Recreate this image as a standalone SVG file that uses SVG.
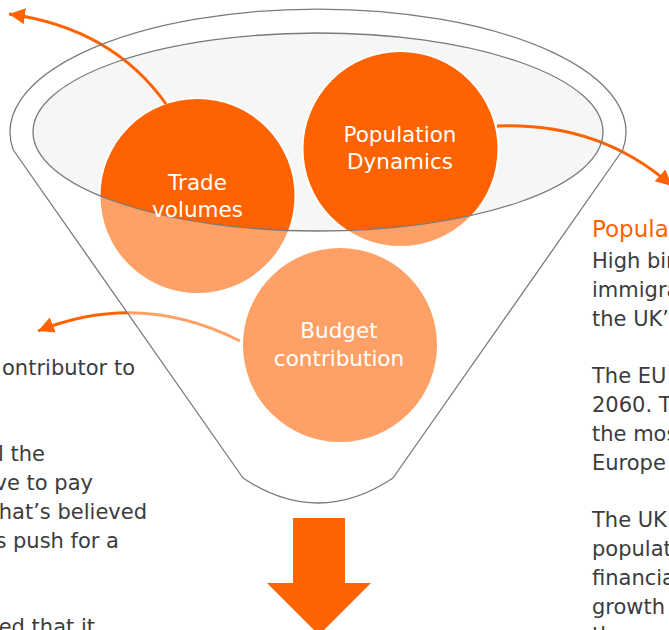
<svg xmlns="http://www.w3.org/2000/svg" width="669" height="630" viewBox="0 0 669 630">
  <style>
    .rim { fill: none; stroke: #7a7a7a; stroke-width: 1.3; stroke-linejoin: round; }
    .ball { fill: #ff6200; stroke: #ffffff; stroke-width: 2; }
    .label { font-family: "DejaVu Sans", "Liberation Sans", sans-serif; font-size: 21.5px; fill: #ffffff; text-anchor: middle; }
    .body { font-family: "DejaVu Sans", "Liberation Sans", sans-serif; font-size: 21px; fill: #3c3c3c; }
    .title { font-family: "DejaVu Sans", "Liberation Sans", sans-serif; font-size: 23px; fill: #ff6200; }
    .link { fill: none; stroke: #ff6200; stroke-width: 2.8; marker-end: url(#head); }
  </style>
  <defs>
    <marker id="head" markerUnits="userSpaceOnUse" markerWidth="20" markerHeight="18" refX="16" refY="8" orient="auto">
      <path d="M0,0 L16,8 L0,16 Z" fill="#ff6200"/>
    </marker>
  </defs>

  <!-- funnel body and opening -->
  <g id="funnel">
    <path d="M13.3,150 A308,123 0 1 1 622.7,150 L393,478 Q318,528 243,478 Z" fill="#ffffff"/>
    <ellipse cx="318" cy="132" rx="285" ry="99" fill="#f6f6f6"/>
  </g>

  <!-- factor circles -->
  <g id="node-trade">
    <circle class="ball" cx="197.5" cy="196" r="98"/>
  </g>
  <g id="node-population">
    <circle class="ball" cx="400.5" cy="149" r="98"/>
  </g>
  <g id="node-budget">
    <circle class="ball" cx="340" cy="345" r="98"/>
  </g>

  <!-- connectors -->
  <g id="connectors">
    <path class="link" d="M166,104 Q112,28 9,14"/>
    <path class="link" d="M497,126 Q600,122 672,186"/>
    <path class="link" d="M240,341 Q140,290 38,331"/>
  </g>

  <!-- translucent front wall of the funnel, below the opening -->
  <path id="funnel-wall" d="M33,132 A285,99 0 0 0 603,132 L594.7,190 L393,478 Q318,528 243,478 L13.3,150 Z" fill="#ffffff" fill-opacity="0.4"/>

  <!-- funnel outlines -->
  <g id="funnel-lines">
    <path class="rim" d="M13.3,150 A308,123 0 1 1 622.7,150 L393,478 Q318,528 243,478 Z"/>
    <ellipse class="rim" cx="318" cy="132" rx="285" ry="99"/>
  </g>

  <!-- circle labels -->
  <g id="node-labels">
    <text class="label" x="197.5" y="190">Trade</text>
    <text class="label" x="197.5" y="217">volumes</text>
    <text class="label" x="400" y="142">Population</text>
    <text class="label" x="400" y="169">Dynamics</text>
    <text class="label" x="339" y="338">Budget</text>
    <text class="label" x="339" y="366">contribution</text>
  </g>

  <!-- output arrow -->
  <path id="output-arrow" d="M293,518 L345,518 L345,583 L371,583 L319,635 L267,583 L293,583 Z" fill="#ff6200"/>

  <!-- left text column -->
  <g id="left-text" class="body" text-anchor="end">
    <text x="135" y="375">ontributor to</text>
    <text x="45" y="461.4">l the</text>
    <text x="93" y="490.2">ve to pay</text>
    <text x="147" y="519">hat’s believed</text>
    <text x="119" y="547.8">s push for a</text>
    <text x="95" y="634.2">ed that it</text>
  </g>

  <!-- right text column -->
  <g id="right-text">
    <text class="title" x="592" y="237">Popula</text>
    <g class="body">
      <text x="592" y="268">High bir</text>
      <text x="592" y="296.8">immigra</text>
      <text x="592" y="325.6">the UK’s</text>
      <text x="592" y="383.2">The EU</text>
      <text x="592" y="412">2060. T</text>
      <text x="592" y="440.8">the mos</text>
      <text x="592" y="469.6">Europe</text>
      <text x="592" y="527.2">The UK</text>
      <text x="592" y="556">populat</text>
      <text x="592" y="584.8">financia</text>
      <text x="592" y="613.6">growth</text>
      <text x="592" y="642.4">the</text>
    </g>
  </g>
</svg>
